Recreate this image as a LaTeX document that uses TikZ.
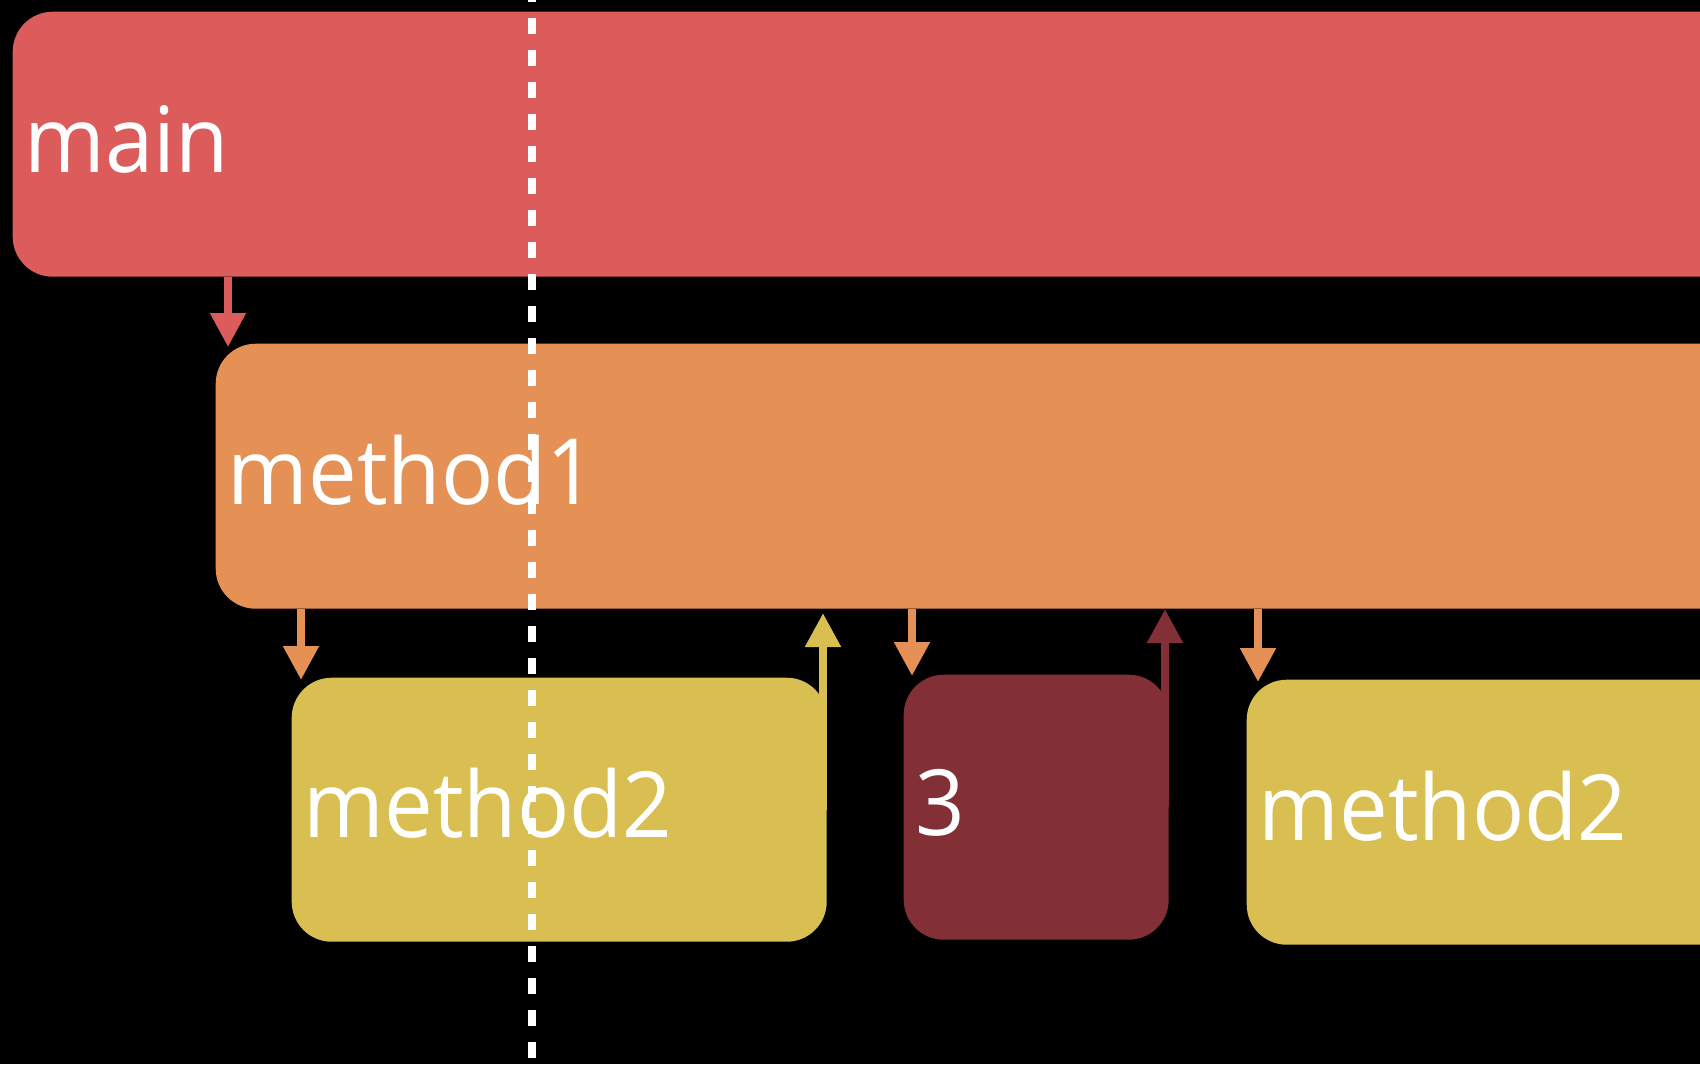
\documentclass[tikz,border=0pt]{standalone}
\usepackage{fontspec}
\usetikzlibrary{arrows.meta,calc,positioning}
\newfontfamily\lblfont[FakeStretch=0.95]{Open Sans}
\definecolor{mainred}{RGB}{220,91,91}
\definecolor{mone}{RGB}{229,145,85}
\definecolor{mtwo}{RGB}{217,191,82}
\definecolor{leaf}{RGB}{130,47,54}

\begin{document}
\begin{tikzpicture}[
  frame/.style={rounded corners=0.4cm, minimum height=2.65cm, anchor=north west, inner sep=0pt},
  txt/.style={anchor=base west, inner sep=0pt, text=white, font=\lblfont\fontsize{26}{30}\selectfont},
  call/.style={line width=0.08cm, -{Triangle[width=0.34cm,length=0.34cm]}},
  cut/.style={white, line width=0.08cm, dash pattern=on 0.16cm off 0.16cm}
]
  \fill[black] (0,0) rectangle (17,-10.64);
  \clip (0,0) rectangle (17,-10.64);

  % Frames
  \node[frame, fill=mainred, minimum width=17.5cm] (main) at (0.12,-0.11) {};
  \node[frame, fill=mone, minimum width=15.5cm] (method1) at (2.15,-3.43) {};
  \node[frame, fill=mtwo, minimum width=5.35cm, minimum height=2.64cm] (m2a) at (2.91,-6.77) {};
  \node[frame, fill=leaf, minimum width=2.65cm] (three) at (9.03,-6.74) {};
  \node[frame, fill=mtwo, minimum width=5.2cm] (m2b) at (12.46,-6.79) {};

  % Labels
  \node[txt] (mainlbl) at ([shift={(0.12,1.05)}]main.south west) {main};
  \node[txt] (m1lbl) at ([shift={(0.12,1.05)}]method1.south west) {method1};
  \node[txt] (m2albl) at ([shift={(0.12,1.05)}]m2a.south west) {method2};
  \node[txt] (threelbl) at ([shift={(0.12,1.05)}]three.south west) {3};
  \node[txt] (m2blbl) at ([shift={(0.12,1.05)}]m2b.south west) {method2};

  % Arrow tips
  \coordinate (t1) at (2.28,-3.47);
  \coordinate (t2) at (3.01,-6.80);
  \coordinate (t3) at (8.23,-6.13);
  \coordinate (t4) at (9.12,-6.76);
  \coordinate (t5) at (11.65,-6.09);
  \coordinate (t6) at (12.58,-6.82);

  % Arrows
  \draw[call, mainred] (main.south -| t1) -- (t1);
  \draw[call, mone] (method1.south -| t2) -- (t2);
  \draw[call, mtwo] (m2a.east -| t3) -- (t3);
  \draw[call, mone] (method1.south -| t4) -- (t4);
  \draw[call, leaf] (three.east -| t5) -- (t5);
  \draw[call, mone] (method1.south -| t6) -- (t6);

  % Cut line
  \coordinate (cuttop) at (5.32,0.14);
  \coordinate (cutbot) at (5.32,-10.58);
  \draw[cut] (cuttop) -- (cutbot);
\end{tikzpicture}
\end{document}
